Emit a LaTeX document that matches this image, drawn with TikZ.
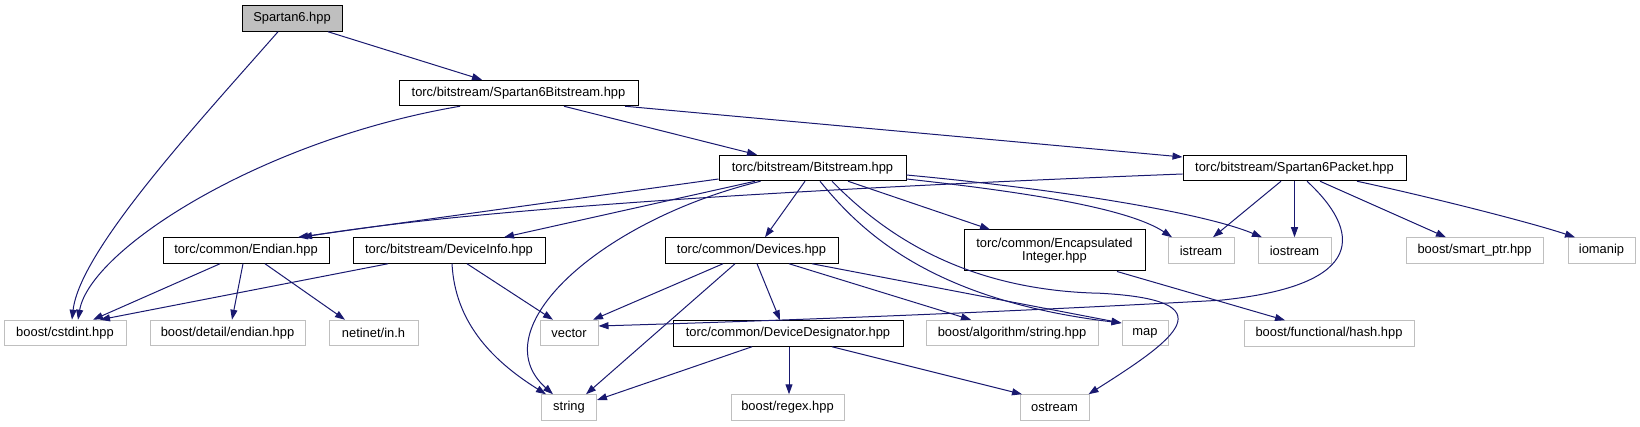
\documentclass[tikz,border=0pt]{standalone}
\usepackage{fontspec}
\setmainfont{Liberation Sans}
\usepackage{xcolor}
\usepackage{tikz}
\usetikzlibrary{arrows.meta}

\definecolor{edgeblue}{HTML}{191970}
\definecolor{extgray}{HTML}{BFBFBF}

\tikzset{
    docbox/.style={draw=black, line width=1pt, minimum height=25.5, inner sep=0pt,
        align=center, font=\fontsize{12.9}{13.5}\selectfont},
    extbox/.style={docbox, draw=extgray},
    rootbox/.style={docbox, fill=extgray},
    dep/.style={draw=edgeblue, line width=1pt, -{Triangle[length=10pt, width=7pt]}}
}

\begin{document}
\begin{tikzpicture}[x=1pt, y=-1pt]
    \useasboundingbox (0,0) rectangle (1640,427);

    \node[rootbox, minimum width=100] (spartan) at (292,18.5) {Spartan6.hpp};
    \node[docbox, minimum width=239] (sbit) at (518.5,93) {torc/bitstream/Spartan6Bitstream.hpp};
    \node[docbox, minimum width=187] (bitstream) at (812.5,168) {torc/bitstream/Bitstream.hpp};
    \node[docbox, minimum width=223] (spacket) at (1294.5,168) {torc/bitstream/Spartan6Packet.hpp};

    \node[docbox, minimum width=166] (endian) at (246,250.5) {torc/common/Endian.hpp};
    \node[docbox, minimum width=192] (devinfo) at (449,250.5) {torc/bitstream/DeviceInfo.hpp};
    \node[docbox, minimum width=173] (devices) at (751.5,250.5) {torc/common/Devices.hpp};
    \node[docbox, minimum width=181, minimum height=41] (encint) at (1054.5,250.5) {torc/common/Encapsulated\\Integer.hpp};
    \node[extbox, minimum width=66] (istream) at (1201,250.5) {istream};
    \node[extbox, minimum width=73] (iostream) at (1294.5,250.5) {iostream};
    \node[extbox, minimum width=137] (smartptr) at (1474.5,250.5) {boost/smart\_ptr.hpp};
    \node[extbox, minimum width=67] (iomanip) at (1601.5,250.5) {iomanip};

    \node[extbox, minimum width=122] (cstdint) at (65,333) {boost/cstdint.hpp};
    \node[extbox, minimum width=155] (detendian) at (227.5,333) {boost/detail/endian.hpp};
    \node[extbox, minimum width=89] (netinet) at (373.5,333) {netinet/in.h};
    \node[extbox, minimum width=58] (vector) at (569,333) {vector};
    \node[docbox, minimum width=230] (devdesig) at (788,333.5) {torc/common/DeviceDesignator.hpp};
    \node[extbox, minimum width=172] (algstring) at (1012,333) {boost/algorithm/string.hpp};
    \node[extbox, minimum width=46] (map) at (1145,333) {map};
    \node[extbox, minimum width=170] (hash) at (1329,333.5) {boost/functional/hash.hpp};

    \node[extbox, minimum width=55] (string) at (569,407.5) {string};
    \node[extbox, minimum width=113] (regex) at (787.5,407.5) {boost/regex.hpp};
    \node[extbox, minimum width=69] (ostream) at (1054.5,407.5) {ostream};

    \draw[dep] ([xshift=36]spartan.south) -- ([xshift=-36.5]sbit.north);
    \draw[dep] ([xshift=-14]spartan.south) .. controls +(-78,89) and +(8,-70) .. ([xshift=7]cstdint.north);
    \draw[dep] ([xshift=-58.5]sbit.south) .. controls +(-200,34) and +(12,-70) .. ([xshift=13]cstdint.north);
    \draw[dep] ([xshift=45.5]sbit.south) -- ([xshift=-55.5]bitstream.north);
    \draw[dep] ([xshift=106.5]sbit.south) -- ([yshift=11]spacket.west);

    \draw[dep] ([yshift=-11]bitstream.west) -- ([xshift=52]endian.north);
    \draw[dep] ([yshift=-6]spacket.west) .. controls +(-283,11) and +(200,-33) .. ([xshift=56]endian.north);
    \draw[dep] ([xshift=-57.5]bitstream.south) -- ([xshift=55]devinfo.north);
    \draw[dep] ([xshift=-52]bitstream.south) .. controls +(-160,39) and +(-73,-65) .. ([xshift=-16]string.north);
    \draw[dep] ([xshift=-7.5]bitstream.south) -- ([xshift=13.5]devices.north);
    \draw[dep] ([xshift=7.5]bitstream.south) .. controls +(40,49) and +(-192,-23) .. ([yshift=10]map.west);
    \draw[dep] ([xshift=19.5]bitstream.south) .. controls +(48,49) and +(-140,-3) .. ++(268,112)
        .. controls +(130,7) and +(87,-55) .. ([xshift=-1]ostream.north east);
    \draw[dep] ([xshift=35.5]bitstream.south) -- ([xshift=-64.5]encint.north);
    \draw[dep] ([yshift=-11]bitstream.east) .. controls +(110,12) and +(-45,-30) .. ([xshift=-29]istream.north);
    \draw[dep] ([yshift=-7]bitstream.east) .. controls +(150,14) and +(-60,-25) .. ([xshift=-32.5]iostream.north);

    \draw[dep] ([xshift=-13.5]spacket.south) -- ([xshift=12]istream.north);
    \draw[dep] (spacket.south) -- (iostream.north);
    \draw[dep] ([xshift=12.5]spacket.south) .. controls +(53,49) and +(150,-15) .. ++(-87,119)
        .. controls +(-220,12) and +(202,-6) .. ([yshift=7]vector.east);
    \draw[dep] ([xshift=25.5]spacket.south) -- ([xshift=-28.5]smartptr.north);
    \draw[dep] ([xshift=62.5]spacket.south) .. controls +(70,15) and +(-45,-15) .. ([xshift=-26.5]iomanip.north);

    \draw[dep] ([xshift=-26]endian.south) -- ([xshift=28]cstdint.north);
    \draw[dep] ([xshift=-3]endian.south) -- ([xshift=4.5]detendian.north);
    \draw[dep] ([xshift=19]endian.south) -- ([xshift=-28.5]netinet.north);

    \draw[dep] ([xshift=-61]devinfo.south) -- ([xshift=35]cstdint.north);
    \draw[dep] ([xshift=3]devinfo.south) .. controls +(3,57) and +(-56,-35) .. ([xshift=-23]string.north);
    \draw[dep] ([xshift=18]devinfo.south) -- ([xshift=-16]vector.north);

    \draw[dep] ([xshift=-28.5]devices.south) -- ([xshift=24]vector.north);
    \draw[dep] ([xshift=-16.5]devices.south) -- ([xshift=17]string.north);
    \draw[dep] ([xshift=5.5]devices.south) -- ([xshift=-8]devdesig.north);
    \draw[dep] ([xshift=37.5]devices.south) -- ([xshift=-41]algstring.north);
    \draw[dep] ([xshift=60.5]devices.south) -- ([yshift=10]map.west);

    \draw[dep] ([xshift=62.5]encint.south) -- ([xshift=-44]hash.north);

    \draw[dep] ([xshift=-36]devdesig.south) -- ([yshift=7.5]string.east);
    \draw[dep] ([xshift=1]devdesig.south) -- ([xshift=1.5]regex.north);
    \draw[dep] ([xshift=44]devdesig.south) -- ([xshift=-32.5]ostream.north);
\end{tikzpicture}
\end{document}
